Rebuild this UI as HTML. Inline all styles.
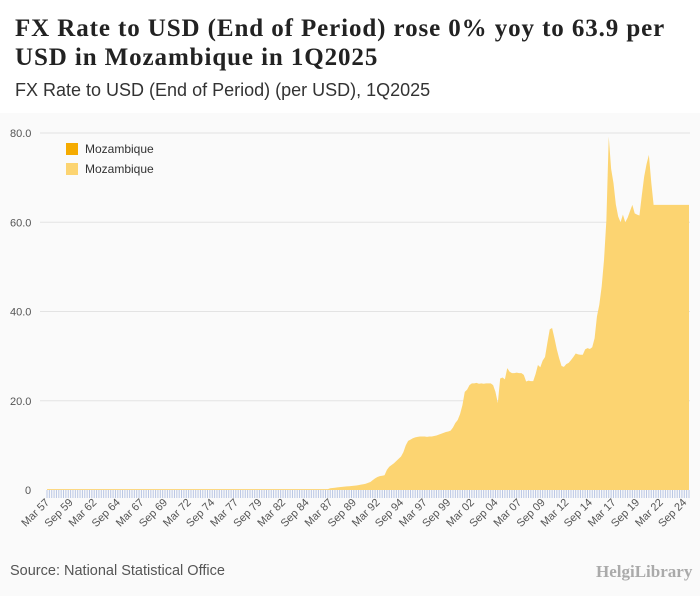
<!DOCTYPE html>
<html><head><meta charset="utf-8"><style>
body{margin:0;width:700px;height:596px;background:#fafafa;font-family:"Liberation Sans",sans-serif;overflow:hidden;position:relative}
#hdr{position:absolute;left:0;top:0;width:700px;height:113px;background:#fff}
h1{position:absolute;left:15px;top:14px;margin:0;font:bold 25px/29px "Liberation Serif",serif;letter-spacing:0.9px;color:#222;width:675px}
h2{position:absolute;left:15px;top:80px;margin:0;font:18px "Liberation Sans",sans-serif;color:#333}
#src{position:absolute;left:10px;top:563px;font-size:14.5px;color:#555}
#logo{position:absolute;left:596px;top:562px;font:bold 17px "Liberation Serif",serif;color:#aaa}
</style></head><body>
<div id="hdr"></div>
<h1>FX Rate to USD (End of Period) rose 0% yoy to 63.9 per USD in Mozambique in 1Q2025</h1>
<h2>FX Rate to USD (End of Period) (per USD), 1Q2025</h2>
<svg id="chart" width="700" height="596" style="position:absolute;left:0;top:0"></svg>
<div id="src">Source: National Statistical Office</div>
<div id="logo">HelgiLibrary</div>
<script>
const startYear = 1957;
const yTicks = [0, 20, 40, 60, 80];
const yTickLabels = ["0", "20.0", "40.0", "60.0", "80.0"];
const earlyValues = [
0.2,0.2,0.2,0.2,0.2,0.2,0.2,0.2,0.2,0.2,0.2,0.2,0.2,0.2,0.2,0.2,0.2,0.2,0.2,0.2,
0.2,0.2,0.2,0.2,0.2,0.2,0.2,0.2,0.2,0.2,0.2,0.2,0.2,0.2,0.2,0.2,0.2,0.2,0.2,0.2,
0.2,0.2,0.2,0.2,0.2,0.2,0.2,0.2,0.2,0.2,0.2,0.2,0.2,0.2,0.2,0.2,0.2,0.2,0.2,0.2,
0.2,0.2,0.2,0.2,0.2,0.2,0.2,0.2,0.2,0.2,0.2,0.2,0.2,0.2,0.2,0.2,0.2,0.2,0.2,0.2,
0.2,0.2,0.2,0.2,0.2,0.2,0.2,0.2,0.2,0.2,0.2,0.2,0.2,0.2,0.2,0.2,0.2,0.2,0.2,0.2,
0.2,0.2,0.2,0.2,0.2,0.2,0.2,0.2,0.2,0.2,0.2,0.2,0.2,0.2,0.2,0.2,0.2,0.2,0.2,0.2];
const lateValues = [
0.4,0.45,0.5,0.6, 0.65,0.7,0.75,0.8, 0.85,0.9,0.95,1.0, 1.1,1.2,1.3,1.4,
1.6,1.8,2.2,2.6, 2.9,3.1,3.2,3.3, 4.5,5.2,5.6,6.0, 6.5,7.0,7.5,8.5,
10.0,11.0,11.3,11.6, 11.8,11.9,12.0,12.0, 12.0,11.9,12.0,12.0, 12.1,12.2,12.4,12.6,
12.8,13.0,13.1,13.3, 14.0,15.0,15.7,17.0, 19.0,22.0,22.5,23.5, 23.9,23.9,24.0,23.8,
23.9,23.8,23.9,23.9, 23.9,23.5,22.0,19.5, 25.0,25.2,24.8,27.3, 26.5,26.2,26.2,26.3,
26.2,26.2,25.8,24.3, 24.5,24.4,24.4,26.0, 28.0,27.5,29.0,29.8, 33.0,36.0,36.3,34.0,
31.5,29.5,27.8,27.6, 28.2,28.5,29.1,29.8, 30.6,30.4,30.3,30.3, 31.5,31.8,31.6,32.0,
34.0,38.9,41.5,45.6, 51.6,60.5,79.2,72.0, 68.8,64.0,61.3,60.0, 61.7,60.0,61.0,62.5,
63.9,62.0,61.7,61.5, 66.0,70.2,73.0,75.1, 69.0,63.9,63.9,63.9,
63.9,63.9,63.9,63.9, 63.9,63.9,63.9,63.9, 63.9,63.9,63.9,63.9, 63.9];
const values = earlyValues.concat(lateValues);
const months = ["Mar","Jun","Sep","Dec"];

const NS="http://www.w3.org/2000/svg";
const svg=document.getElementById('chart');
const x0=47,x1=689,yBase=490,yTop=133;
const n=values.length;
const xs=i=>x0+i*(x1-x0)/(n-1);
const ys=v=>yBase-v*(yBase-yTop)/80;
function mk(t,a){const e=document.createElementNS(NS,t);for(const k in a)e.setAttribute(k,a[k]);svg.appendChild(e);return e;}

yTicks.forEach((v,k)=>{
  if(v>0){const g=mk('line',{x1:40,x2:690,y1:ys(v),y2:ys(v),stroke:'#e3e3e3','stroke-width':1});
  
  }
  const t=mk('text',{x:v===0?25:10,y:ys(v)+4,'font-size':11,fill:'#555','font-family':'Liberation Sans, sans-serif'});
  t.textContent=yTickLabels[k];
  
  
});

let d='M'+xs(0)+','+yBase;
values.forEach((v,i)=>{d+=' L'+xs(i).toFixed(2)+','+ys(v).toFixed(2);});
d+=' L'+xs(n-1)+','+yBase+' Z';
const area=mk('path',{d:d,fill:'#fcd471'});



for(let i=0;i<n;i++){
  const tk=mk('line',{x1:xs(i),x2:xs(i),y1:490,y2:498,stroke:'#b9c6e4','stroke-width':1});
  
  
  if(i%10===0){
    const yr=startYear+Math.floor(i/4);
    const lbl=months[i%4]+' '+String(yr%100).padStart(2,'0');
    const t=mk('text',{x:xs(i)+3,y:503,'font-size':11,fill:'#555','text-anchor':'end','font-family':'Liberation Sans, sans-serif',transform:'rotate(-45 '+(xs(i)+3)+' 503)'});
    t.textContent=lbl;
    
    
  }
}

[['#f5ab00',149],['#fcd471',169]].forEach(([c,y],k)=>{
  const r=mk('rect',{x:66,y:y-6,width:12,height:12,fill:c});
  
  
  const t=mk('text',{x:85,y:y+4,'font-size':12,fill:'#333','font-family':'Liberation Sans, sans-serif'});
  t.textContent='Mozambique';
  
  
});
</script>
</body></html>
